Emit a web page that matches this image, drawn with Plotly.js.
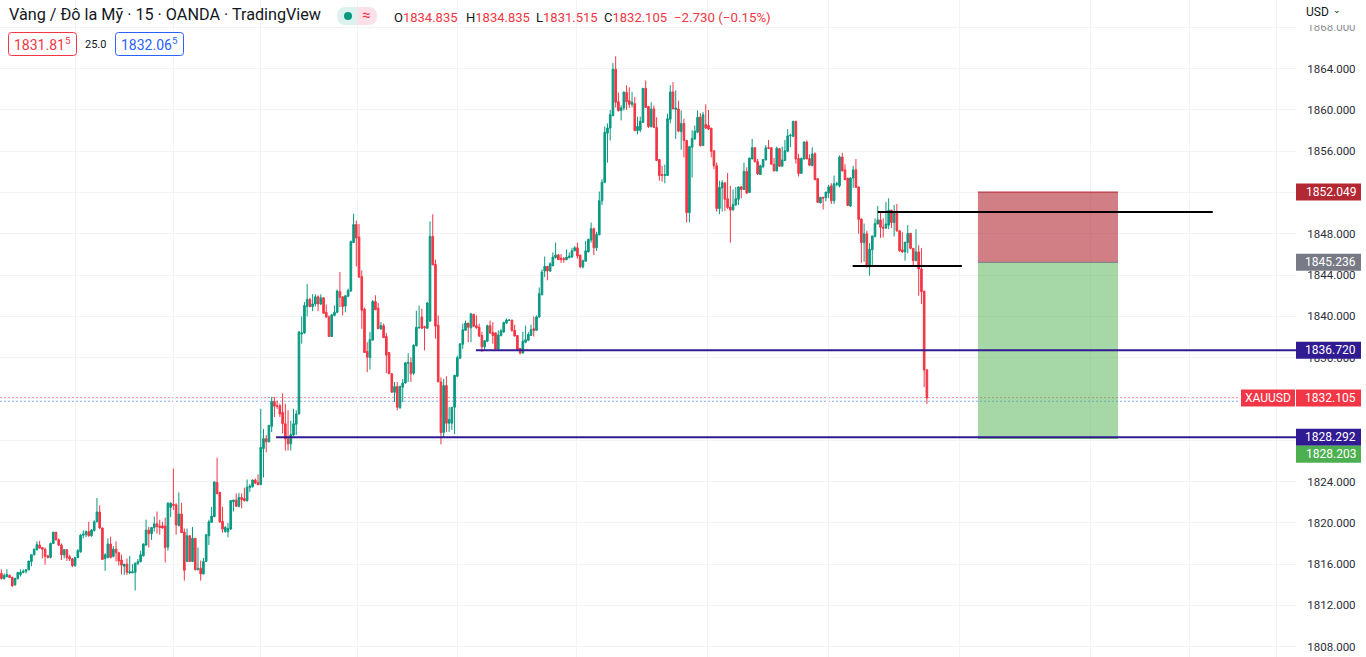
<!DOCTYPE html>
<html><head><meta charset="utf-8">
<script src="https://cdn.plot.ly/plotly-3.0.1.min.js"></script>
<style>html,body{margin:0;padding:0;background:#fff;overflow:hidden}#c{width:1366px;height:657px}</style>
</head><body><div id="c"></div>
<script>
// Each row: open, high, low, close
const candlesA=[
[1815.1,1815.5,1814.5,1814.6],[1814.6,1815.1,1814.5,1814.9],[1814.8,1815.5,1814.7,1815.0],[1814.9,1815.0,1814.7,1814.7],[1814.7,1814.8,1813.8,1813.9],[1814.0,1814.7,1813.9,1814.6],[1814.6,1815.2,1814.5,1815.2],[1815.0,1815.5,1814.8,1815.2],[1815.2,1815.5,1815.1,1815.3],[1815.3,1815.5,1815.1,1815.45],
[1815.45,1816.3,1815.4,1816.3],[1816.25,1816.95,1815.8,1816.9],[1816.9,1817.5,1816.85,1817.45],[1817.4,1818.2,1817.3,1817.9],[1817.85,1818.25,1817.5,1817.55],[1817.6,1817.6,1816.55,1817.45],[1817.45,1817.6,1815.95,1816.75],[1816.8,1816.9,1816.55,1816.65],[1816.65,1818.1,1816.55,1818.0],[1818.0,1819.1,1817.95,1819.1],
[1819.1,1819.1,1818.3,1818.35],[1818.35,1818.5,1817.75,1817.85],[1817.85,1818.0,1816.4,1816.9],[1816.9,1817.45,1816.55,1817.4],[1817.4,1817.4,1816.3,1816.65],[1816.7,1816.9,1816.3,1816.5],[1816.5,1816.6,1815.7,1815.85],[1815.85,1816.65,1815.75,1816.65],[1816.65,1817.45,1816.55,1817.3],[1817.2,1818.9,1817.1,1818.8],
[1818.8,1819.25,1818.5,1818.9],[1818.85,1819.25,1818.6,1819.15],[1819.15,1820.1,1818.65,1818.75],[1818.75,1819.4,1818.65,1819.3],[1819.25,1820.25,1819.15,1820.1],[1820.1,1822.4,1820.05,1821.05],[1821.05,1821.7,1819.4,1819.5],[1819.5,1819.55,1816.4,1816.45],[1816.55,1817.05,1815.35,1816.9],[1816.65,1818.5,1816.55,1817.95],
[1817.95,1818.65,1816.55,1816.65],[1816.75,1817.75,1816.65,1817.45],[1817.45,1818.2,1816.25,1817.1],[1817.1,1817.2,1815.85,1816.3],[1816.4,1816.9,1815.0,1815.9],[1815.8,1816.0,1814.95,1816.0],[1816.0,1816.55,1814.95,1815.2],[1815.15,1816.8,1815.05,1815.25],[1815.15,1816.0,1815.15,1815.25],[1815.2,1816.1,1813.45,1816.1],
[1816.05,1816.5,1815.9,1816.25],[1816.25,1817.3,1816.15,1816.9],[1816.8,1818.0,1816.75,1817.95],[1817.85,1820.3,1817.75,1819.3],[1819.3,1819.6,1817.6,1818.95],[1818.95,1819.55,1818.35,1819.55],[1819.55,1820.6,1819.15,1819.9],[1819.9,1821.1,1818.95,1819.65],[1819.7,1820.3,1818.85,1819.55],[1819.7,1820.1,1819.45,1819.5]
];
const candlesB=[
[1819.7,1820.5,1816.15,1817.6],[1817.65,1822.0,1817.3,1821.9],[1821.5,1822.0,1820.55,1821.9],[1821.8,1825.25,1821.25,1821.7],[1821.75,1821.9,1818.85,1819.8],[1819.75,1822.95,1819.65,1820.85],[1820.85,1821.95,1819.0,1819.05],[1819.1,1819.45,1814.4,1815.4],[1816.25,1819.45,1816.25,1818.75],[1818.75,1818.75,1816.25,1816.25],
[1816.25,1819.6,1816.2,1818.5],[1818.5,1818.5,1815.4,1815.45],[1815.45,1817.6,1815.4,1815.6],[1815.6,1816.35,1814.4,1815.05],[1815.05,1816.6,1815.0,1816.25],[1816.25,1818.85,1816.25,1818.85],[1818.75,1820.3,1817.85,1820.1],[1820.05,1821.55,1820.0,1820.65],[1820.6,1824.05,1820.55,1823.95],[1823.9,1826.3,1822.75,1822.85],
[1822.95,1823.0,1820.0,1820.1],[1820.15,1821.55,1819.05,1819.4],[1819.15,1819.7,1819.05,1819.55],[1819.15,1820.0,1818.6,1819.45],[1819.4,1822.2,1819.3,1822.15],[1822.05,1822.25,1821.1,1822.2],[1822.2,1822.85,1821.55,1821.6],[1821.6,1822.9,1821.5,1822.45],[1822.45,1822.85,1821.4,1822.25],[1822.35,1823.4,1822.05,1822.15],
[1822.15,1824.2,1822.05,1823.45],[1823.4,1823.75,1823.0,1823.55],[1823.5,1824.2,1823.4,1824.15],[1824.15,1824.3,1823.75,1823.85],[1823.9,1824.7,1823.65,1823.7],[1823.7,1831.05,1823.65,1827.3],[1827.2,1829.1,1824.4,1828.15],[1828.15,1828.5,1826.85,1827.85],[1827.85,1829.45,1827.8,1829.45],[1829.35,1832.2,1828.8,1831.75],
[1831.75,1832.2,1830.25,1831.3],[1831.35,1831.85,1831.05,1831.3],[1831.35,1831.55,1830.25,1830.55],[1830.7,1832.55,1828.65,1829.6],[1829.6,1831.55,1827.0,1828.15],[1828.15,1830.9,1827.0,1827.65],[1827.65,1829.9,1827.0,1828.55],[1828.5,1831.05,1828.4,1829.6],[1829.55,1830.9,1828.5,1830.55],[1830.55,1838.55,1830.5,1838.5]
];
const candlesC=[
[1838.3,1840.0,1837.35,1838.4],[1838.4,1841.4,1838.3,1841.05],[1840.95,1843.15,1840.0,1841.65],[1841.65,1841.8,1840.9,1840.95],[1840.95,1842.15,1840.5,1841.2],[1841.2,1842.15,1840.95,1841.9],[1841.9,1842.05,1840.5,1841.2],[1841.2,1842.15,1841.1,1841.8],[1841.8,1841.85,1840.25,1840.3],[1840.4,1841.15,1839.85,1839.95],
[1839.95,1840.1,1838.05,1838.05],[1838.05,1840.25,1838.0,1840.15],[1840.1,1841.05,1840.0,1840.4],[1840.4,1842.6,1840.3,1842.45],[1842.4,1844.3,1840.9,1841.85],[1841.9,1841.9,1840.1,1840.95],[1841.0,1842.05,1840.4,1842.0],[1841.95,1842.7,1841.85,1842.5],[1842.45,1847.35,1842.4,1847.25],[1847.15,1849.95,1847.15,1848.9],
[1848.9,1849.3,1844.85,1847.6],[1847.7,1848.95,1843.8,1843.8],[1843.85,1844.45,1838.8,1840.6],[1840.7,1840.85,1836.45,1836.5],[1836.6,1837.5,1834.6,1836.05],[1836.0,1838.5,1834.85,1837.75],[1837.7,1841.6,1837.7,1841.45],[1841.45,1842.05,1840.6,1840.65],[1840.8,1841.3,1838.8,1838.8],[1838.8,1839.45,1838.7,1839.1],
[1839.1,1839.3,1837.9,1837.95],[1838.05,1838.4,1834.5,1836.25],[1836.5,1836.5,1834.45,1834.45],[1834.45,1834.45,1832.65,1832.65],[1832.65,1833.65,1831.7,1833.2],[1833.2,1833.65,1830.9,1831.2],[1831.15,1833.3,1831.05,1833.2],[1833.15,1833.95,1831.7,1833.55],[1833.55,1835.55,1833.5,1835.5],[1835.45,1836.45,1833.65,1835.55],
[1835.5,1836.05,1833.65,1834.45],[1834.5,1837.3,1834.3,1837.2],[1837.15,1840.55,1837.1,1838.95],[1838.9,1841.05,1838.8,1838.95],[1839.95,1840.75,1838.8,1838.85],[1839.0,1839.1,1836.7,1838.9],[1838.85,1841.4,1838.8,1841.3],[1839.55,1849.2,1839.45,1847.75],[1847.75,1849.9,1844.95,1845.0],[1845.05,1845.5,1837.85,1839.05]
];
const candlesD=[
[1839.15,1840.1,1833.65,1833.65],[1833.65,1834.1,1827.6,1828.75],[1828.75,1833.95,1828.3,1833.3],[1833.3,1834.2,1828.8,1829.65],[1829.65,1831.2,1828.8,1830.0],[1829.65,1831.2,1829.0,1831.2],[1831.2,1834.3,1828.6,1834.3],[1834.2,1836.2,1834.1,1836.0],[1835.95,1837.35,1835.9,1837.35],[1837.3,1839.3,1836.85,1838.7],
[1838.65,1839.6,1838.6,1839.35],[1839.35,1839.35,1837.5,1838.95],[1838.9,1840.3,1837.5,1840.25],[1840.2,1840.25,1838.95,1839.05],[1839.1,1840.1,1838.8,1838.9],[1838.95,1839.3,1838.0,1838.1],[1838.15,1838.5,1836.55,1837.05],[1837.05,1837.65,1836.7,1837.65],[1837.6,1839.2,1837.5,1839.1],[1839.1,1839.6,1838.3,1838.4],
[1838.45,1839.45,1837.35,1838.15],[1838.4,1838.45,1836.7,1836.85],[1836.85,1838.65,1836.7,1838.2],[1838.15,1838.8,1838.05,1838.6],[1838.5,1839.5,1838.4,1839.4],[1839.35,1839.8,1839.3,1839.65],[1839.6,1839.75,1839.55,1839.65],[1839.65,1839.65,1838.5,1838.65],[1838.65,1839.2,1838.05,1838.1],[1838.15,1838.15,1836.8,1836.8],
[1836.9,1836.9,1836.3,1836.45],[1836.45,1838.5,1836.4,1837.6],[1837.5,1839.1,1837.4,1837.75],[1837.7,1838.5,1837.6,1838.25],[1838.15,1839.2,1838.1,1838.7],[1838.8,1840.0,1838.05,1838.65],[1838.65,1840.1,1838.6,1839.95],[1839.95,1842.8,1839.85,1842.2],[1842.1,1844.55,1842.05,1844.3],[1844.4,1845.8,1843.8,1844.85],
[1844.85,1844.85,1843.5,1844.4],[1844.4,1845.25,1844.3,1845.1],[1844.9,1846.2,1844.9,1845.75],[1845.7,1847.15,1845.6,1845.95],[1845.95,1846.05,1845.5,1845.5],[1845.65,1846.05,1845.2,1845.5],[1845.6,1845.75,1845.2,1845.5],[1845.5,1846.5,1845.45,1845.75],[1845.7,1846.2,1845.6,1845.85],[1845.75,1846.65,1845.7,1846.35],
[1846.35,1846.8,1846.35,1846.65],[1846.65,1847.15,1845.6,1845.85],[1845.95,1845.95,1844.7,1844.8],[1844.8,1845.5,1844.65,1845.4],[1845.35,1847.3,1845.3,1846.35],[1846.25,1847.55,1846.2,1847.45],[1847.4,1849.1,1847.15,1848.5],[1848.5,1848.6,1845.95,1846.65],[1846.65,1848.2,1846.35,1847.95],[1847.9,1852.1,1847.9,1851.2]
];
const candlesE=[
[1851.2,1853.3,1850.8,1853.0],[1853.0,1858.4,1852.9,1857.85],[1857.75,1858.7,1854.9,1858.25],[1858.25,1860.0,1857.05,1859.55],[1859.45,1864.55,1859.4,1863.95],[1863.95,1865.2,1860.25,1860.75],[1860.8,1861.7,1859.85,1859.95],[1859.95,1860.45,1859.0,1860.2],[1860.2,1861.75,1859.95,1861.75],[1861.7,1862.4,1860.0,1860.8],
[1860.9,1862.2,1860.2,1860.55],[1860.55,1861.75,1860.25,1860.75],[1860.6,1861.25,1857.95,1858.0],[1858.0,1859.35,1857.65,1858.4],[1858.05,1859.35,1857.85,1858.9],[1858.8,1862.1,1858.75,1862.1],[1862.1,1862.85,1860.2,1860.25],[1860.35,1860.35,1858.25,1858.4],[1858.4,1860.75,1858.3,1860.1],[1860.1,1860.45,1858.25,1858.3],
[1858.3,1859.3,1855.1,1855.1],[1855.2,1855.2,1853.15,1853.65],[1853.75,1854.6,1853.05,1853.65],[1853.65,1854.7,1852.9,1853.75],[1853.65,1859.65,1853.65,1859.15],[1859.1,1862.4,1858.7,1861.75],[1861.75,1862.7,1860.1,1860.1],[1860.05,1861.9,1857.2,1860.2],[1860.1,1860.9,1857.85,1857.95],[1857.9,1859.95,1856.15,1858.7],
[1858.7,1859.15,1855.4,1857.05],[1857.05,1857.1,1849.1,1850.05],[1850.05,1856.55,1849.1,1856.45],[1856.4,1858.05,1853.45,1857.25],[1857.2,1858.5,1857.1,1857.95],[1857.85,1859.95,1857.75,1859.3],[1859.3,1859.7,1856.45,1856.55],[1856.55,1859.8,1856.55,1859.55],[1858.6,1860.55,1858.15,1858.25],[1858.5,1860.0,1858.05,1858.15],
[1858.25,1858.25,1855.4,1856.0],[1856.05,1856.05,1854.25,1854.6],[1854.6,1854.9,1850.15,1850.45],[1850.45,1853.15,1849.9,1852.5],[1852.45,1853.2,1850.15,1852.95],[1852.95,1852.95,1850.2,1851.35],[1851.4,1853.9,1850.4,1850.55],[1850.6,1852.65,1847.15,1850.3],[1850.35,1852.3,1850.2,1850.85],[1850.8,1852.55,1850.7,1851.4],
[1851.35,1852.55,1850.8,1852.55],[1852.55,1852.65,1851.45,1852.3],[1852.3,1854.9,1852.25,1854.05],[1854.05,1854.45,1851.85,1851.95],[1852.0,1855.35,1852.0,1855.35],[1855.25,1857.2,1855.25,1856.35],[1856.35,1856.35,1854.9,1855.0],[1855.0,1855.25,1853.7,1853.8],[1853.75,1854.7,1853.7,1854.6],[1854.5,1855.2,1854.35,1855.2]
];
const candlesF=[
[1855.15,1856.6,1855.15,1856.35],[1856.35,1857.1,1856.2,1856.3],[1856.35,1856.4,1854.7,1854.75],[1854.75,1855.35,1854.05,1854.1],[1854.1,1856.45,1854.05,1856.3],[1856.25,1856.3,1854.5,1854.55],[1854.55,1856.45,1854.5,1855.15],[1855.1,1857.1,1855.1,1856.05],[1856.0,1858.15,1855.9,1857.5],[1857.5,1857.7,1856.4,1857.55],
[1857.45,1858.95,1857.4,1858.9],[1858.9,1858.95,1854.8,1855.25],[1855.3,1855.75,1853.55,1853.85],[1853.85,1855.4,1853.85,1855.3],[1855.25,1856.95,1855.2,1856.9],[1856.9,1857.05,1855.25,1855.25],[1855.3,1855.7,1854.55,1854.65],[1854.6,1856.4,1854.6,1855.75],[1855.75,1855.9,1853.2,1853.25],[1853.35,1853.35,1851.0,1851.05],
[1851.0,1851.55,1850.95,1851.55],[1851.55,1851.55,1850.35,1851.45],[1851.5,1852.05,1851.15,1852.05],[1851.95,1852.75,1851.45,1852.55],[1852.65,1852.9,1850.9,1851.2],[1851.2,1853.65,1850.9,1852.85],[1852.8,1853.05,1852.6,1852.85],[1852.65,1855.6,1852.5,1855.45],[1855.45,1855.85,1854.05,1854.1],[1854.2,1854.75,1853.25,1853.25],
[1853.4,1853.4,1850.75,1850.75],[1850.7,1853.5,1850.6,1853.4],[1853.4,1854.6,1852.45,1854.2],[1854.2,1855.25,1852.5,1852.5],[1852.55,1852.55,1848.0,1849.4],[1849.45,1849.45,1845.2,1847.15],[1847.15,1849.0,1845.3,1848.0],[1848.0,1848.3,1844.75,1844.8],[1844.8,1847.1,1843.95,1846.5],[1846.45,1847.8,1844.8,1847.8],
[1847.75,1849.5,1847.65,1849.0],[1848.95,1850.7,1848.95,1849.35],[1849.35,1850.15,1847.6,1848.65],[1848.65,1849.5,1847.65,1848.55],[1848.55,1851.1,1848.5,1848.95],[1848.85,1851.45,1848.45,1850.3],[1850.3,1850.3,1848.55,1849.1],[1849.1,1850.8,1847.75,1850.15],[1850.15,1850.9,1848.2,1848.3],[1848.3,1848.3,1846.25,1846.35],
[1846.45,1848.15,1846.15,1846.25],[1846.25,1847.2,1845.4,1847.2],[1847.15,1848.85,1846.1,1848.05],[1848.05,1848.05,1846.5,1846.6],[1846.6,1846.6,1844.9,1845.4],[1845.4,1848.45,1845.4,1846.25],[1846.25,1846.9,1842.0,1844.6],[1844.6,1846.6,1841.2,1842.4],[1842.45,1842.45,1833.15,1834.8],[1834.835,1834.835,1831.515,1832.105]
];
const priceTicks=[1808,1812,1816,1820,1824,1828,1832,1836,1840,1844,1848,1852,1856,1860,1864,1868];
const timeGrid=[26.96,62.86,94.9,130.6,166.9,210.8,258.8,302.8,350.9,398.9,435.1,467.1];
const stopLevel=1852.049, entryLevel=1845.236, targetLevel=1828.203;
const blueLevels=[1836.72,1828.292], lastClose=1832.105, askLine=1831.78, lastLine=1832.08;
const blackLevels=[1850.11,1844.88];

const W=1366,H=657,PW=1296;
const X0=-0.513,X1=474.2,Y0=1807.0,Y1=1870.657;
const px=v=>v/PW, py=v=>1-v/H;
const rows=[...candlesA,...candlesB,...candlesC,...candlesD,...candlesE,...candlesF];
const idx=rows.map((_,i)=>i);
const hline=(x0,x1,y,color,width,dash,layer)=>({type:'line',xref:'x',yref:'y',x0,x1,y0:y,y1:y,line:{color,width,dash:dash||'solid'},layer:layer||'above'});
const rrect=(x0,y0,x1,y1,r,fill,stroke)=>({type:'path',xref:'paper',yref:'paper',layer:'above',fillcolor:fill,
  line:{color:stroke||'rgba(0,0,0,0)',width:stroke?1:0},
  path:`M ${px(x0+r)} ${py(y0)} L ${px(x1-r)} ${py(y0)} Q ${px(x1)} ${py(y0)} ${px(x1)} ${py(y0+r)} L ${px(x1)} ${py(y1-r)} Q ${px(x1)} ${py(y1)} ${px(x1-r)} ${py(y1)} L ${px(x0+r)} ${py(y1)} Q ${px(x0)} ${py(y1)} ${px(x0)} ${py(y1-r)} L ${px(x0)} ${py(y0+r)} Q ${px(x0)} ${py(y0)} ${px(x0+r)} ${py(y0)} Z`});
const pbox=(x0,y0,x1,y1,fill,op)=>({type:'rect',xref:'paper',yref:'paper',layer:'above',x0:px(x0),x1:px(x1),y0:py(y0),y1:py(y1),fillcolor:fill,opacity:op==null?1:op,line:{width:0}});
const badgeBox=(x0,x1,price,bg,shift)=>({type:'rect',xref:'paper',yref:'y',ysizemode:'pixel',yanchor:price,y0:-8.5+(shift||0),y1:8.5+(shift||0),x0:px(x0),x1:px(x1),fillcolor:bg,line:{width:0},layer:'above'});
const DARK='#131722',RED='#F23645',NAVY='#311B92',GRAY='#787B86',CRIMSON='#B22833',GREEN='#4CAF50';

const shapes=[
 hline(X0,453.7,askLine,'rgba(41,98,255,0.55)',1,'2px,2px','below'),
 hline(X0,453.7,lastLine,RED,1.2,'2px,2px','below'),
 {type:'rect',xref:'x',yref:'y',x0:357.7,x1:409,y0:entryLevel,y1:stopLevel,fillcolor:'rgba(178,40,51,0.6)',line:{width:0},layer:'above'},
 {type:'rect',xref:'x',yref:'y',x0:357.7,x1:409,y0:targetLevel,y1:entryLevel,fillcolor:'rgba(76,175,80,0.5)',line:{width:0},layer:'above'},
 hline(357.7,409,stopLevel,CRIMSON,1),
 hline(357.7,409,entryLevel,GRAY,1),
 hline(357.7,409,targetLevel,GREEN,1),
 hline(321,443.7,blackLevels[0],'#000000',2),
 hline(311.8,351.8,blackLevels[1],'#000000',2),
 hline(173.8,X1,blueLevels[0],NAVY,2),
 hline(100.6,X1,blueLevels[1],NAVY,2),
 pbox(1296,0,1366,25,'#ffffff'),
 pbox(1296,25,1366,33,'#ffffff',0.45),
 {type:'path',xref:'paper',yref:'paper',layer:'above',fillcolor:'#DDF2EE',line:{width:0},path:`M ${px(357)} ${py(7)} L ${px(346)} ${py(7)} Q ${px(337)} ${py(7)} ${px(337)} ${py(16)} Q ${px(337)} ${py(25)} ${px(346)} ${py(25)} L ${px(357)} ${py(25)} Z`},
 {type:'path',xref:'paper',yref:'paper',layer:'above',fillcolor:'#FCE0E8',line:{width:0},path:`M ${px(357)} ${py(7)} L ${px(368)} ${py(7)} Q ${px(377)} ${py(7)} ${px(377)} ${py(16)} Q ${px(377)} ${py(25)} ${px(368)} ${py(25)} L ${px(357)} ${py(25)} Z`},
 {type:'circle',xref:'paper',yref:'paper',layer:'above',x0:px(344),x1:px(352),y0:py(12),y1:py(20),fillcolor:'#089981',line:{width:0}},
 rrect(8.5,32.5,76.5,55.5,3,'#ffffff',RED),
 rrect(115.5,32.5,183.5,55.5,3,'#ffffff','#2962FF'),
 badgeBox(1296,1361,stopLevel,CRIMSON),
 badgeBox(1296,1361,entryLevel,GRAY),
 badgeBox(1296,1361,blueLevels[0],NAVY),
 badgeBox(1241,1295,lastClose,RED),
 badgeBox(1296,1361,lastClose,RED),
 badgeBox(1296,1361,blueLevels[1],NAVY),
 badgeBox(1296,1361,targetLevel,GREEN,-16)
];

const FONT='Roboto, Arial, sans-serif';
const txt=(x,y,text,size,color,anchor)=>({xref:'paper',yref:'paper',x:px(x),y:py(y),text,showarrow:false,xanchor:anchor||'left',yanchor:'middle',font:{family:FONT,size,color}});
const badge=(x,price,text,yshift)=>({xref:'paper',yref:'y',x:px(x),y:price,yshift:yshift||0,text,showarrow:false,xanchor:'center',yanchor:'middle',borderpad:0,font:{family:FONT,size:12,color:'#ffffff'}});
const annotations=[
 txt(7,15,'Vàng / Đô la Mỹ · 15 · OANDA · TradingView',16.2,DARK),
 txt(366,15.5,'≈',15,RED,'center'),
 txt(391.5,17,`<span style="color:${DARK}">O</span>1834.835`,13,RED),
 txt(463.5,17,`<span style="color:${DARK}">H</span>1834.835`,13,RED),
 txt(533.5,17,`<span style="color:${DARK}">L</span>1831.515`,13,RED),
 txt(601.5,17,`<span style="color:${DARK}">C</span>1832.105`,13,RED),
 txt(672.5,17,'−2.730 (−0.15%)',13.3,RED),
 txt(42.5,44,'1831.81<sup>5</sup>',14,RED,'center'),
 txt(95.5,44,'25.0',11,DARK,'center'),
 txt(149.5,44,'1832.06<sup>5</sup>',14,'#2962FF','center'),
 txt(1304,12,'USD',12,DARK),
 txt(1337,10,'⌄',9,DARK,'center'),
 badge(1330.5,stopLevel,'1852.049'),
 badge(1330.5,entryLevel,'1845.236'),
 badge(1330.5,blueLevels[0],'1836.720'),
 badge(1268,lastClose,'XAUUSD'),
 badge(1330.5,lastClose,'1832.105'),
 badge(1330.5,blueLevels[1],'1828.292'),
 badge(1330.5,targetLevel,'1828.203',-16)
];

Plotly.newPlot('c',[{
  type:'candlestick',x:idx,
  open:rows.map(r=>r[0]),high:rows.map(r=>r[1]),low:rows.map(r=>r[2]),close:rows.map(r=>r[3]),
  increasing:{line:{color:'#089981',width:1},fillcolor:'#089981'},
  decreasing:{line:{color:'#F23645',width:1},fillcolor:'#F23645'},
  whiskerwidth:0,hoverinfo:'skip',showlegend:false
}],{
  width:W,height:H,margin:{l:0,r:70,t:0,b:0,pad:0},paper_bgcolor:'#fff',plot_bgcolor:'#fff',showlegend:false,boxgap:0.15,
  xaxis:{type:'linear',range:[X0,X1],tickmode:'array',tickvals:timeGrid,showticklabels:false,ticks:'',showgrid:true,gridcolor:'#F2F3F5',gridwidth:1,zeroline:false,showline:false,rangeslider:{visible:false}},
  yaxis:{type:'linear',side:'right',range:[Y0,Y1],tickmode:'array',tickvals:priceTicks,tickformat:'.3f',ticks:'outside',ticklen:8,tickcolor:'rgba(0,0,0,0)',tickfont:{family:FONT,size:11.5,color:'#2a2e39'},showgrid:true,gridcolor:'#F2F3F5',gridwidth:1,zeroline:false,showline:false},
  shapes,annotations
},{displayModeBar:false,staticPlot:true});
</script></body></html>
